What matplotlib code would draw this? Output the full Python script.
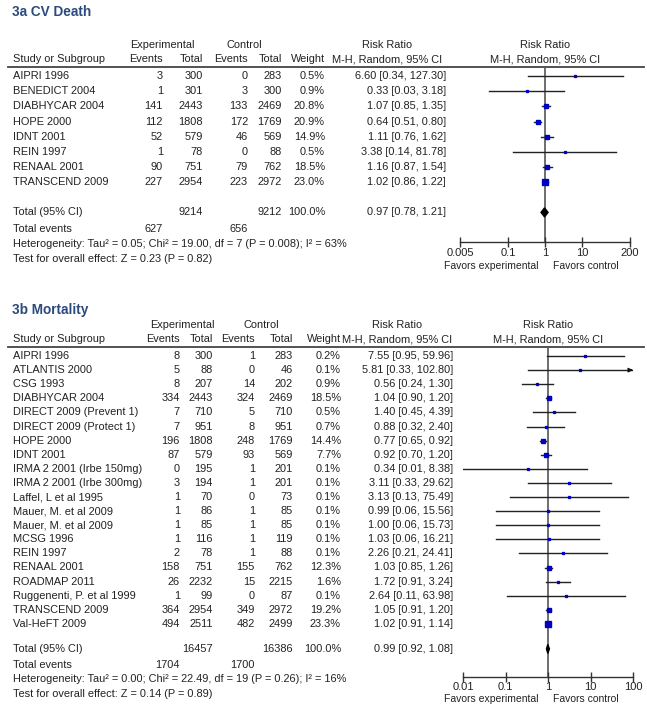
import matplotlib
matplotlib.use("Agg")
import matplotlib.pyplot as plt
import numpy as np

plt.rcParams["font.family"] = ["Liberation Sans", "DejaVu Sans"]

# ---- 3a CV Death ----
a_studies = ["AIPRI 1996", "BENEDICT 2004", "DIABHYCAR 2004", "HOPE 2000",
             "IDNT 2001", "REIN 1997", "RENAAL 2001", "TRANSCEND 2009"]
a_exp_events = [3, 1, 141, 112, 52, 1, 90, 227]
a_exp_total = [300, 301, 2443, 1808, 579, 78, 751, 2954]
a_ctl_events = [0, 3, 133, 172, 46, 0, 79, 223]
a_ctl_total = [283, 300, 2469, 1769, 569, 88, 762, 2972]
a_weight = [0.5, 0.9, 20.8, 20.9, 14.9, 0.5, 18.5, 23.0]
a_rr = [6.60, 0.33, 1.07, 0.64, 1.11, 3.38, 1.16, 1.02]
a_lo = [0.34, 0.03, 0.85, 0.51, 0.76, 0.14, 0.87, 0.86]
a_hi = [127.30, 3.18, 1.35, 0.80, 1.62, 81.78, 1.54, 1.22]
a_total = (9214, 9212, 627, 656)
a_pooled = (0.97, 0.78, 1.21)
a_het = "Heterogeneity: Tau² = 0.05; Chi² = 19.00, df = 7 (P = 0.008); I² = 63%"
a_test = "Test for overall effect: Z = 0.23 (P = 0.82)"
a_ticks = [0.005, 0.1, 1, 10, 200]
a_ticklabels = ["0.005", "0.1", "1", "10", "200"]

# ---- 3b Mortality ----
b_studies = ["AIPRI 1996", "ATLANTIS 2000", "CSG 1993", "DIABHYCAR 2004",
             "DIRECT 2009 (Prevent 1)", "DIRECT 2009 (Protect 1)", "HOPE 2000",
             "IDNT 2001", "IRMA 2 2001 (Irbe 150mg)", "IRMA 2 2001 (Irbe 300mg)",
             "Laffel, L et al 1995", "Mauer, M. et al 2009", "Mauer, M. et al 2009",
             "MCSG 1996", "REIN 1997", "RENAAL 2001", "ROADMAP 2011",
             "Ruggenenti, P. et al 1999", "TRANSCEND 2009", "Val-HeFT 2009"]
b_exp_events = [8, 5, 8, 334, 7, 7, 196, 87, 0, 3, 1, 1, 1, 1, 2, 158, 26, 1, 364, 494]
b_exp_total = [300, 88, 207, 2443, 710, 951, 1808, 579, 195, 194, 70, 86, 85, 116,
               78, 751, 2232, 99, 2954, 2511]
b_ctl_events = [1, 0, 14, 324, 5, 8, 248, 93, 1, 1, 0, 1, 1, 1, 1, 155, 15, 0, 349, 482]
b_ctl_total = [283, 46, 202, 2469, 710, 951, 1769, 569, 201, 201, 73, 85, 85, 119,
               88, 762, 2215, 87, 2972, 2499]
b_weight = [0.2, 0.1, 0.9, 18.5, 0.5, 0.7, 14.4, 7.7, 0.1, 0.1, 0.1, 0.1, 0.1, 0.1,
            0.1, 12.3, 1.6, 0.1, 19.2, 23.3]
b_rr = [7.55, 5.81, 0.56, 1.04, 1.40, 0.88, 0.77, 0.92, 0.34, 3.11, 3.13, 0.99, 1.00,
        1.03, 2.26, 1.03, 1.72, 2.64, 1.05, 1.02]
b_lo = [0.95, 0.33, 0.24, 0.90, 0.45, 0.32, 0.65, 0.70, 0.01, 0.33, 0.13, 0.06, 0.06,
        0.06, 0.21, 0.85, 0.91, 0.11, 0.91, 0.91]
b_hi = [59.96, 102.80, 1.30, 1.20, 4.39, 2.40, 0.92, 1.20, 8.38, 29.62, 75.49, 15.56,
        15.73, 16.21, 24.41, 1.26, 3.24, 63.98, 1.20, 1.14]
b_total = (16457, 16386, 1704, 1700)
b_pooled = (0.99, 0.92, 1.08)
b_het = "Heterogeneity: Tau² = 0.00; Chi² = 22.49, df = 19 (P = 0.26); I² = 16%"
b_test = "Test for overall effect: Z = 0.14 (P = 0.89)"
b_ticks = [0.01, 0.1, 1, 10, 100]
b_ticklabels = ["0.01", "0.1", "1", "10", "100"]

W, H = 647, 707
fig = plt.figure(figsize=(W / 100, H / 100), dpi=100)
bg = fig.add_axes([0, 0, 1, 1])
bg.set_xlim(0, W)
bg.set_ylim(H, 0)
bg.axis("off")

TXT = "#222222"
FS = 7.9
BLUE = "#0000c0"


def panel(title, top, studies, ee, et, ce, ct, wt, rr, lo, hi, total, pooled,
          het, test, ticks, ticklabels, xlim, cols, hdr, fx, step, y_h1, tot_gap):
    c_ev, c_et, c_cev, c_ct, c_w, c_rr, c_rrh = cols
    y_h2 = y_h1 + 14.5
    y_line = y_h2 + 7.5
    bg.text(12, top, title, fontsize=9.8, fontweight="bold", color="#2b4a7e",
            va="center", ha="left")
    bg.text(hdr[0], y_h1, "Experimental", fontsize=FS, color=TXT,
            ha="center", va="center")
    bg.text(hdr[1], y_h1, "Control", fontsize=FS, color=TXT,
            ha="center", va="center")
    bg.text(c_rrh, y_h1, "Risk Ratio", fontsize=FS, color=TXT, ha="center", va="center")
    bg.text(c_rrh, y_h2, "M-H, Random, 95% CI", fontsize=FS, color=TXT,
            ha="center", va="center")
    bg.text((fx[0] + fx[1]) / 2, y_h1, "Risk Ratio", fontsize=FS, color=TXT,
            ha="center", va="center")
    bg.text((fx[0] + fx[1]) / 2, y_h2, "M-H, Random, 95% CI", fontsize=FS, color=TXT,
            ha="center", va="center")
    bg.text(13, y_h2, "Study or Subgroup", fontsize=FS, color=TXT, va="center")
    for x, s in [(c_ev, "Events"), (c_et, "Total"), (c_cev, "Events"),
                 (c_ct, "Total"), (c_w, "Weight")]:
        bg.text(x, y_h2, s, fontsize=FS, color=TXT, ha="right", va="center")
    bg.plot([8, 644], [y_line, y_line], color="#444444", lw=1.3)

    ys = [y_line + 9 + step * i for i in range(len(studies))]
    for i, y in enumerate(ys):
        bg.text(13, y, studies[i], fontsize=FS, color=TXT, va="center")
        bg.text(c_ev, y, str(ee[i]), fontsize=FS, color=TXT, ha="right", va="center")
        bg.text(c_et, y, str(et[i]), fontsize=FS, color=TXT, ha="right", va="center")
        bg.text(c_cev, y, str(ce[i]), fontsize=FS, color=TXT, ha="right", va="center")
        bg.text(c_ct, y, str(ct[i]), fontsize=FS, color=TXT, ha="right", va="center")
        bg.text(c_w, y, f"{wt[i]:.1f}%", fontsize=FS, color=TXT, ha="right", va="center")
        bg.text(c_rr, y, f"{rr[i]:.2f} [{lo[i]:.2f}, {hi[i]:.2f}]", fontsize=FS,
                color=TXT, ha="right", va="center")

    y_tot = ys[-1] + tot_gap
    y_ev = y_tot + step + 1.5
    y_het = y_ev + step
    y_test = y_het + 15
    bg.text(13, y_tot, "Total (95% CI)", fontsize=FS, color=TXT, va="center")
    bg.text(c_et, y_tot, str(total[0]), fontsize=FS, color=TXT, ha="right", va="center")
    bg.text(c_ct, y_tot, str(total[1]), fontsize=FS, color=TXT, ha="right", va="center")
    bg.text(c_w, y_tot, "100.0%", fontsize=FS, color=TXT, ha="right", va="center")
    bg.text(c_rr, y_tot, f"{pooled[0]:.2f} [{pooled[1]:.2f}, {pooled[2]:.2f}]",
            fontsize=FS, color=TXT, ha="right", va="center")
    bg.text(13, y_ev, "Total events", fontsize=FS, color=TXT, va="center")
    bg.text(c_ev, y_ev, str(total[2]), fontsize=FS, color=TXT, ha="right", va="center")
    bg.text(c_cev, y_ev, str(total[3]), fontsize=FS, color=TXT, ha="right", va="center")
    bg.text(13, y_het, het, fontsize=FS, color=TXT, va="center")
    bg.text(13, y_test, test, fontsize=FS, color=TXT, va="center")

    # forest plot axes
    y_axis = y_het - 2
    ax = fig.add_axes([fx[0] / W, 1 - y_axis / H, (fx[1] - fx[0]) / W,
                       (y_axis - y_line) / H])
    ax.set_xscale("log")
    ax.set_xlim(*xlim)
    ax.set_ylim(y_axis, y_line)
    ax.patch.set_alpha(0)
    for s in ["top", "left", "right"]:
        ax.spines[s].set_visible(False)
    ax.spines["bottom"].set_color("#333333")
    ax.spines["bottom"].set_linewidth(1.0)
    ax.set_yticks([])
    ax.set_xticks(ticks)
    ax.set_xticklabels(ticklabels)
    ax.minorticks_off()
    ax.tick_params(axis="x", direction="inout", length=7, width=1, pad=0.5,
                   labelsize=8, colors="#333333", labelcolor=TXT)
    ax.axvline(1, color="#555555", lw=1.2, zorder=1)
    for i, y in enumerate(ys):
        h = min(hi[i], xlim[1])
        ax.plot([lo[i], h], [y, y], color="#222222", lw=1.0, zorder=2)
        if hi[i] > xlim[1]:
            ax.annotate("", xy=(xlim[1], y), xytext=(xlim[1] * 0.75, y),
                        arrowprops=dict(arrowstyle="-|>", color="#111111", lw=1.0,
                                        mutation_scale=6))
        ms = max(1.4, 0.78 * np.sqrt(wt[i]))
        ax.plot(rr[i], y, marker="s", ms=ms, color=BLUE, mec=BLUE, zorder=3)
    dh = 4.5
    ax.fill([pooled[1], pooled[0], pooled[2], pooled[0]],
            [y_tot, y_tot - dh, y_tot, y_tot + dh], color="black", zorder=4)
    y_fav = y_axis + step * 1.57
    bg.text(538, y_fav, "Favors experimental", fontsize=7.5, color=TXT,
            ha="right", va="center")
    bg.text(553, y_fav, "Favors control", fontsize=7.5, color=TXT,
            ha="left", va="center")


panel("3a CV Death", 12, a_studies, a_exp_events, a_exp_total, a_ctl_events,
      a_ctl_total, a_weight, a_rr, a_lo, a_hi, a_total, a_pooled, a_het, a_test,
      a_ticks, a_ticklabels, (0.005, 200),
      (163, 203, 248, 282, 325, 446, 387), (162, 244), (460, 630), 15.2, 45, 30)

panel("3b Mortality", 310, b_studies, b_exp_events, b_exp_total, b_ctl_events,
      b_ctl_total, b_weight, b_rr, b_lo, b_hi, b_total, b_pooled, b_het, b_test,
      b_ticks, b_ticklabels, (0.01, 100),
      (180, 213, 255, 293, 341, 453, 397), (182, 261), (463, 633), 14.1, 325, 25)

fig.savefig("out.png", dpi=100)
